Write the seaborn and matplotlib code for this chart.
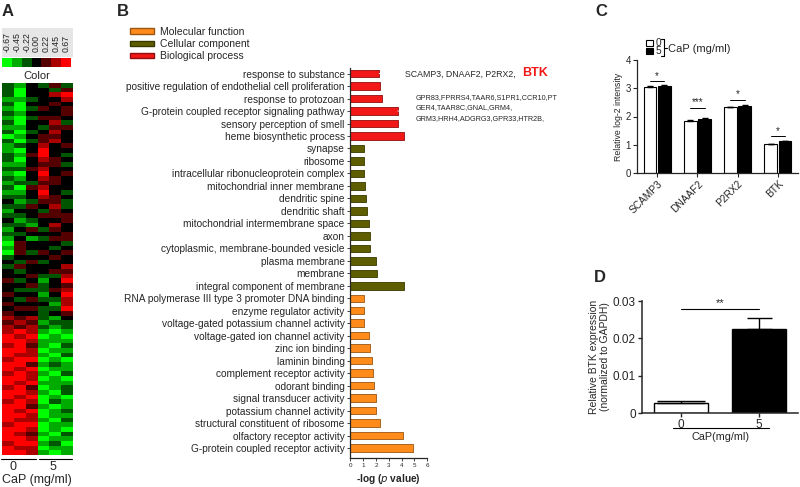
import numpy as np
import pandas as pd
import matplotlib
matplotlib.use("Agg")
import matplotlib.pyplot as plt
import seaborn as sns
from matplotlib.colors import LinearSegmentedColormap, to_rgb
from matplotlib.patches import Patch, Rectangle
from matplotlib.lines import Line2D

# ---- panel A: heatmap, one string per row, digit 0..6 -> -0.67..0.67 (3 = black)
heat_rows = [
    "213242", "203324", "203356", "112335", "203343", "102434", "213334", "102443",
    "203352", "113244", "202353", "013443", "202453", "123534", "103633", "214632",
    "203543", "113442", "224533", "103634", "213543", "122443", "204533", "113632",
    "223543", "312442", "224352", "133243", "223444", "312334", "221353", "134243",
    "223334", "131244", "043332", "143323", "042434", "233343", "324233", "243335",
    "323344", "334225", "423136", "334234", "322245", "433136", "324225", "433315",
    "344226", "433234", "545213", "454122", "545212",
    "565101", "656010", "665111", "564102", "665011", "655102", "566010", "664121",
    "656011", "565102", "665010", "656111", "564012", "665102", "656010", "565021",
    "664101", "656012", "665011", "655102", "566011", "665010", "654102", "665011",
    "566120", "655011", "665101",
]
heat_levels = [-0.67, -0.45, -0.22, 0.00, 0.22, 0.45, 0.67]
heat_level_labels = ["-0.67", "-0.45", "-0.22", "0.00", "0.22", "0.45", "0.67"]
heat_groups = ["0", "5"]

# ---- panel B: GO terms
go_terms = [
    "response to substance",
    "positive regulation of endothelial cell proliferation",
    "response to protozoan",
    "G-protein coupled receptor signaling pathway",
    "sensory perception of smell",
    "heme biosynthetic process",
    "synapse",
    "ribosome",
    "intracellular ribonucleoprotein complex",
    "mitochondrial inner membrane",
    "dendritic spine",
    "dendritic shaft",
    "mitochondrial intermembrane space",
    "axon",
    "cytoplasmic, membrane-bounded vesicle",
    "plasma membrane",
    "membrane",
    "integral component of membrane",
    "RNA polymerase III type 3 promoter DNA binding",
    "enzyme regulator activity",
    "voltage-gated potassium channel activity",
    "voltage-gated ion channel activity",
    "zinc ion binding",
    "laminin binding",
    "complement receptor activity",
    "odorant binding",
    "signal transducer activity",
    "potassium channel activity",
    "structural constituent of ribosome",
    "olfactory receptor activity",
    "G-protein coupled receptor activity",
]
go_values = [2.24, 2.32, 2.5, 3.7, 3.75, 4.2,
             1.07, 1.08, 1.1, 1.15, 1.22, 1.27, 1.46, 1.53, 1.53, 1.98, 2.05, 4.2,
             1.04, 1.07, 1.07, 1.43, 1.5, 1.68, 1.8, 1.85, 1.98, 2.0, 2.3, 4.1, 4.85]
go_types = ["Biological process"] * 6 + ["Cellular component"] * 12 + ["Molecular function"] * 13
type_order = ["Molecular function", "Cellular component", "Biological process"]
type_colors = {"Molecular function": "#ff8c1a",
               "Cellular component": "#5e5e00",
               "Biological process": "#f21818"}

# ---- panel C
c_genes = ["SCAMP3", "DNAAF2", "P2RX2", "BTK"]
c_dose0 = [3.05, 1.85, 2.33, 1.02]
c_dose5 = [3.08, 1.92, 2.38, 1.12]
c_err0 = [0.02, 0.02, 0.02, 0.02]
c_err5 = [0.02, 0.02, 0.03, 0.03]
c_sig = ["*", "***", "*", "*"]
c_sig_y = [3.25, 2.3, 2.58, 1.3]

# ---- panel D
d_doses = ["0", "5"]
d_values = [0.0026, 0.0225]
d_err = [0.0006, 0.0029]
d_sig_y = 0.0278
d_ticks = [0, 0.01, 0.02, 0.03]
d_tick_labels = ["0", "0.01", "0.02", "0.03"]

sns.set_style("ticks")
plt.rcParams["font.family"] = ["Liberation Sans", "DejaVu Sans"]
plt.rcParams["axes.linewidth"] = 0.9

W, H = 800, 487
fig = plt.figure(figsize=(W / 100, H / 100), dpi=100)


def fx(x):
    return x / W


def fy(y):
    return 1 - y / H


def px_axes(l, t, r, b):
    return fig.add_axes([l / W, 1 - b / H, (r - l) / W, (b - t) / H])


def hline(x0, x1, y, lw=0.8, color="black"):
    fig.add_artist(Line2D([fx(x0), fx(x1)], [fy(y), fy(y)], color=color, lw=lw))


def vline(x, y0, y1, lw=0.8):
    fig.add_artist(Line2D([fx(x), fx(x)], [fy(y0), fy(y1)], color="black", lw=lw))


# panel letters
for letter, x, y in [("A", 2, 11), ("B", 117, 11), ("C", 595, 11), ("D", 594, 278)]:
    fig.text(fx(x), fy(y), letter, fontsize=12, fontweight="bold", va="center")

# ================= A =================
cmap = LinearSegmentedColormap.from_list("gkr", ["#00ff00", "#000000", "#ff0000"])
heat = np.array([[heat_levels[int(ch)] for ch in row] for row in heat_rows])
axA = px_axes(2, 83, 73, 455)
sns.heatmap(heat, cmap=cmap, vmin=-0.67, vmax=0.67, cbar=False,
            xticklabels=False, yticklabels=False, ax=axA)

axCb = px_axes(2, 58, 71, 67)
sns.heatmap(np.array([heat_levels]), cmap=cmap, vmin=-0.67, vmax=0.67, cbar=False,
            xticklabels=heat_level_labels, yticklabels=False, ax=axCb)
axCb.xaxis.tick_top()
axCb.tick_params(axis="x", top=False, bottom=False, labelsize=6.3, rotation=90, pad=1,
                 labelcolor="#222222")
fig.patches.append(Rectangle((fx(2), fy(57)), 71 / W, 29 / H, transform=fig.transFigure,
                             facecolor="#e6e6e6", edgecolor="none", zorder=-1))
fig.text(fx(37), fy(76), "Color", ha="center", va="center", fontsize=8)

hline(1, 36, 459)
hline(39, 72, 459)
fig.text(fx(13), fy(467), heat_groups[0], ha="center", va="center", fontsize=9)
fig.text(fx(53), fy(467), heat_groups[1], ha="center", va="center", fontsize=9)
fig.text(fx(37), fy(480), "CaP (mg/ml)", ha="center", va="center", fontsize=9)

# ================= B =================
df_b = pd.DataFrame({"term": go_terms, "value": go_values, "type": go_types})
axB = px_axes(350.3, 68, 427.3, 458)
sns.barplot(data=df_b, x="value", y="term", hue="type", hue_order=type_order,
            palette=type_colors, order=go_terms, dodge=False, width=0.6,
            saturation=1, legend=False, linewidth=0.6, ax=axB)
for p in axB.patches:
    fc = to_rgb(p.get_facecolor())
    p.set_edgecolor(tuple(c * 0.6 for c in fc))
axB.set_xlim(0, 6)
axB.set_ylim(30.8, -0.45)
axB.set_xticks(range(7))
sns.despine(ax=axB)
axB.tick_params(axis="y", length=2.5, width=0.6, labelsize=7.3, pad=1.5)
axB.tick_params(axis="x", length=2, width=0.6, labelsize=4.5, pad=1.5)
axB.set_ylabel("")
axB.set_xlabel(r"-log ($\it{p}$ value)", fontsize=7.3, fontweight="bold", labelpad=3)

handles = [Patch(facecolor=type_colors[t], edgecolor=tuple(c * 0.6 for c in to_rgb(type_colors[t])))
           for t in type_order]
fig.legend(handles, type_order, loc="upper left", bbox_to_anchor=(fx(130), fy(27)),
           frameon=False, fontsize=7.5, handlelength=2.3, handleheight=0.45,
           labelspacing=0.2, handletextpad=0.55, borderaxespad=0, borderpad=0)

axB.annotate("", xy=(398, H - 74), xycoords="figure pixels",
             xytext=(go_values[0], 0), textcoords="data",
             arrowprops=dict(arrowstyle="->", lw=0.6, shrinkA=0, shrinkB=0))
fig.text(fx(405), fy(74), "SCAMP3, DNAAF2, P2RX2,", fontsize=6.3, va="center")
fig.text(fx(522), fy(73), "BTK", fontsize=9, fontweight="bold", color="#f21818", va="center")

axB.annotate("", xy=(413, H - 111), xycoords="figure pixels",
             xytext=(go_values[3], 3), textcoords="data",
             arrowprops=dict(arrowstyle="->", lw=0.6, shrinkA=0, shrinkB=0))
gpr_lines = ["GPR83,FPRRS4,TAAR6,S1PR1,CCR10,PT",
             "GER4,TAAR8C,GNAL,GRM4,",
             "GRM3,HRH4,ADGRG3,GPR33,HTR2B,"]
for line, y in zip(gpr_lines, [98, 108, 118.5]):
    fig.text(fx(416), fy(y), line, fontsize=5.2, va="center")

# ================= C =================
df_c = pd.DataFrame({"gene": c_genes * 2,
                     "dose": ["0"] * 4 + ["5"] * 4,
                     "value": c_dose0 + c_dose5})
axC = px_axes(637, 60, 798, 173)
sns.barplot(data=df_c, x="gene", y="value", hue="dose", hue_order=["0", "5"],
            palette={"0": "white", "5": "black"}, edgecolor="black", linewidth=0.8,
            width=0.72, gap=0.12, saturation=1, legend=False, ax=axC)
bars = sorted(axC.patches, key=lambda p: p.get_x())
errs = [e for pair in zip(c_err0, c_err5) for e in pair]
for p, e in zip(bars, errs):
    cx = p.get_x() + p.get_width() / 2
    axC.errorbar(cx, p.get_height(), yerr=[[0], [e]], color="black", lw=0.6, capsize=2)
for i in range(4):
    b0, b5 = bars[2 * i], bars[2 * i + 1]
    x0 = b0.get_x() + b0.get_width() / 2
    x1 = b5.get_x() + b5.get_width() / 2
    axC.plot([x0, x1], [c_sig_y[i]] * 2, color="black", lw=0.7)
    axC.text((x0 + x1) / 2, c_sig_y[i] + 0.02, c_sig[i], ha="center", va="bottom", fontsize=7)
axC.set_ylim(0, 4)
axC.set_xlim(-0.5, 3.5)
axC.set_yticks([0, 1, 2, 3, 4])
sns.despine(ax=axC)
axC.tick_params(axis="y", length=3, width=0.8, labelsize=7, pad=1.5)
axC.tick_params(axis="x", length=3, width=0.8, labelsize=7.3, pad=1)
axC.set_xticks(range(4))
axC.set_xticklabels(c_genes, rotation=45, ha="right", rotation_mode="anchor")
axC.set_xlabel("")
axC.set_ylabel("Relative log-2 intensity", fontsize=6.3, labelpad=2)

fig.patches.append(Rectangle((fx(646), fy(46)), 7 / W, 6 / H, transform=fig.transFigure,
                             facecolor="white", edgecolor="black", lw=0.8))
fig.patches.append(Rectangle((fx(646), fy(54)), 7 / W, 6 / H, transform=fig.transFigure,
                             facecolor="black", edgecolor="black", lw=0.8))
fig.text(fx(655.5), fy(43), "0", fontsize=7.3, va="center")
fig.text(fx(655.5), fy(51.5), "5", fontsize=7.3, va="center")
vline(664, 39, 56)
hline(661, 664, 39)
hline(661, 664, 56)
hline(664, 667, 48)
fig.text(fx(667.5), fy(48.5), "CaP (mg/ml)", fontsize=8, va="center")

# ================= D =================
axD = px_axes(642, 301, 798, 413)
sns.barplot(x=d_doses, y=d_values, hue=d_doses, palette=["white", "black"],
            edgecolor="black", linewidth=1, width=0.68, saturation=1, legend=False, ax=axD)
dbars = sorted(axD.patches, key=lambda p: p.get_x())
for p, e, cs in zip(dbars, d_err, [17, 9]):
    cx = p.get_x() + p.get_width() / 2
    axD.errorbar(cx, p.get_height(), yerr=[[0], [e]], color="black", lw=1, capsize=cs,
                 capthick=1)
c0 = dbars[0].get_x() + dbars[0].get_width() / 2
c1 = dbars[1].get_x() + dbars[1].get_width() / 2
axD.plot([c0, c1], [d_sig_y] * 2, color="black", lw=0.8)
axD.text((c0 + c1) / 2, d_sig_y + 0.0003, "**", ha="center", va="bottom", fontsize=8)
axD.set_ylim(0, 0.03)
axD.set_xlim(-0.5, 1.5)
axD.set_yticks(d_ticks)
axD.set_yticklabels(d_tick_labels)
sns.despine(ax=axD)
for s in ["left", "bottom"]:
    axD.spines[s].set_linewidth(1.1)
axD.tick_params(axis="both", length=3, width=1, labelsize=8.5, pad=1.5)
axD.set_ylabel("Relative BTK expression\n(normalized to GAPDH)", fontsize=7.5,
               labelpad=2, linespacing=1.1)
hline(673, 769, 428)
fig.text(fx(721), fy(437), "CaP(mg/ml)", ha="center", va="center", fontsize=7.8)

fig.savefig("out.png", dpi=100)
